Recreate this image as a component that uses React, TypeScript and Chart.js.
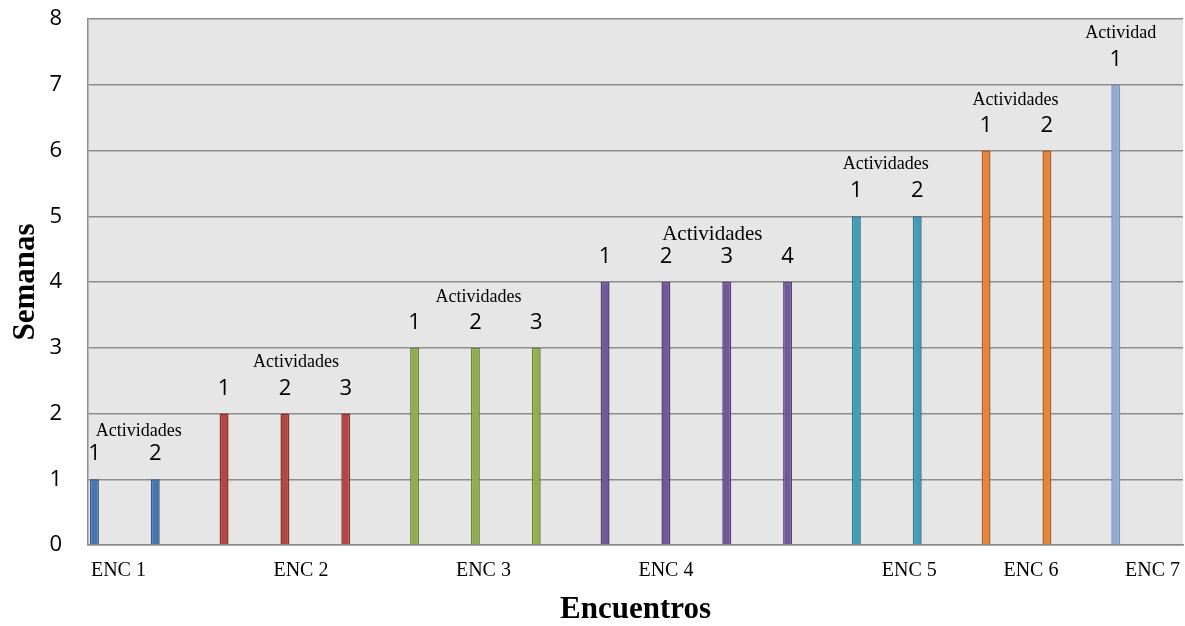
import React, { useEffect, useRef } from "react";
import { Chart, registerables } from "chart.js";

Chart.register(...registerables);

// ---- Data ----
const xTickLabels = ["ENC 1", "", "", "ENC 2", "", "", "ENC 3", "", "", "ENC 4", "", "", "", "ENC 5", "", "ENC 6", "", "ENC 7"];
const semanas = [1, 1, 2, 2, 2, 3, 3, 3, 4, 4, 4, 4, 5, 5, 6, 6, 7, null];
const encuentroDeActividad = [0, 0, 1, 1, 1, 2, 2, 2, 3, 3, 3, 3, 4, 4, 5, 5, 6, null];
const actividadNumero = ["1", "2", "1", "2", "3", "1", "2", "3", "1", "2", "3", "4", "1", "2", "1", "2", "1", ""];
const encuentros = ["ENC 1", "ENC 2", "ENC 3", "ENC 4", "ENC 5", "ENC 6", "ENC 7"];
const encabezados = ["Actividades", "Actividades", "Actividades", "Actividades", "Actividades", "Actividades", "Actividad"];
const yMin = 0;
const yMax = 8;

// ---- Styles ----
const fillColors = ["#4675B0", "#B44643", "#8FAF4E", "#735899", "#419CB6", "#E4853C", "#93AAD2"];
const borderColors = ["#33578A", "#84322F", "#6A8438", "#543F72", "#2F7488", "#A9602A", "#7A90B8"];
const headerDx = [14, 11, 3, 16, -1, -1, 5];
const headerDy = [43, 47, 46, 42, 47, 46, 47];
const GRID = "#8c8c8c";

const bgPlugin = {
  id: "plotBg",
  beforeDraw(chart: any) {
    const { ctx, chartArea } = chart;
    if (!chartArea) return;
    ctx.save();
    ctx.fillStyle = "#e6e6e6";
    ctx.fillRect(chartArea.left, chartArea.top, chartArea.right - chartArea.left, chartArea.bottom - chartArea.top);
    ctx.restore();
  },
};

const labelPlugin = {
  id: "barLabels",
  afterDatasetsDraw(chart: any) {
    const { ctx } = chart;
    ctx.save();
    ctx.fillStyle = "#000";
    ctx.textAlign = "center";
    ctx.textBaseline = "alphabetic";
    chart.data.datasets.forEach((ds: any, di: number) => {
      const meta = chart.getDatasetMeta(di);
      const xs: number[] = [];
      let minY = Infinity;
      meta.data.forEach((el: any, i: number) => {
        const v = ds.data[i];
        if (v === null || v === undefined) return;
        ctx.font = "22px 'Open Sans'";
        ctx.fillText(actividadNumero[i], el.x, el.y - 19);
        xs.push(el.x);
        minY = Math.min(minY, el.y);
      });
      if (xs.length) {
        const cx = xs.reduce((a, b) => a + b, 0) / xs.length + headerDx[di];
        const size = di === 3 ? 21 : 18;
        ctx.font = `${size}px 'Liberation Serif'`;
        ctx.fillText(encabezados[di], cx, minY - headerDy[di]);
      }
    });
    ctx.restore();
  },
};

export default function App() {
  const canvasRef = useRef<HTMLCanvasElement | null>(null);

  useEffect(() => {
    if (!canvasRef.current) return;
    const datasets = encuentros.map((name, k) => ({
      label: name,
      data: semanas.map((v, i) => (encuentroDeActividad[i] === k ? v : null)),
      backgroundColor: fillColors[k],
      borderColor: borderColors[k],
      borderWidth: 1.5,
      categoryPercentage: 0.92,
      barPercentage: 1.12,
    }));

    const chart = new Chart(canvasRef.current, {
      type: "bar",
      data: { labels: xTickLabels, datasets },
      plugins: [bgPlugin, labelPlugin],
      options: {
        animation: false,
        responsive: false,
        layout: { padding: { top: 19, right: 2, left: 0, bottom: 0 } },
        plugins: { legend: { display: false }, tooltip: { enabled: false } },
        scales: {
          x: {
            grid: { display: false, drawTicks: false },
            border: { display: true, color: GRID, width: 1.5 },
            ticks: {
              autoSkip: false,
              maxRotation: 0,
              minRotation: 0,
              padding: 14,
              color: "#000",
              font: { family: "'Liberation Serif'", size: 20 },
            },
            title: {
              display: true,
              text: "Encuentros",
              color: "#000",
              font: { family: "'Liberation Serif'", size: 31, weight: "bold" },
              padding: { top: 0, bottom: -3 },
            },
            afterFit(scale: any) {
              scale.height = 81;
              scale.paddingLeft = 0;
              scale.paddingRight = 0;
            },
          },
          y: {
            min: yMin,
            max: yMax,
            grid: { color: GRID, lineWidth: 1.5, drawTicks: false },
            border: { display: true, color: GRID, width: 1.5 },
            ticks: {
              stepSize: 1,
              padding: 26,
              color: "#000",
              font: { family: "'Open Sans'", size: 22 },
            },
            title: {
              display: true,
              text: "Semanas",
              color: "#000",
              font: { family: "'Liberation Serif'", size: 31, weight: "bold" },
              padding: { top: 7, bottom: 0 },
            },
            afterFit(scale: any) {
              scale.width = 88;
              scale.paddingTop = 0;
              scale.paddingBottom = 0;
            },
          },
        },
      } as any,
    });
    return () => chart.destroy();
  }, []);

  return (
    <div style={{ position: "absolute", left: 0, top: 0, width: 1185, height: 626, background: "#fff" }}>
      <canvas ref={canvasRef} width={1185} height={626} />
    </div>
  );
}
